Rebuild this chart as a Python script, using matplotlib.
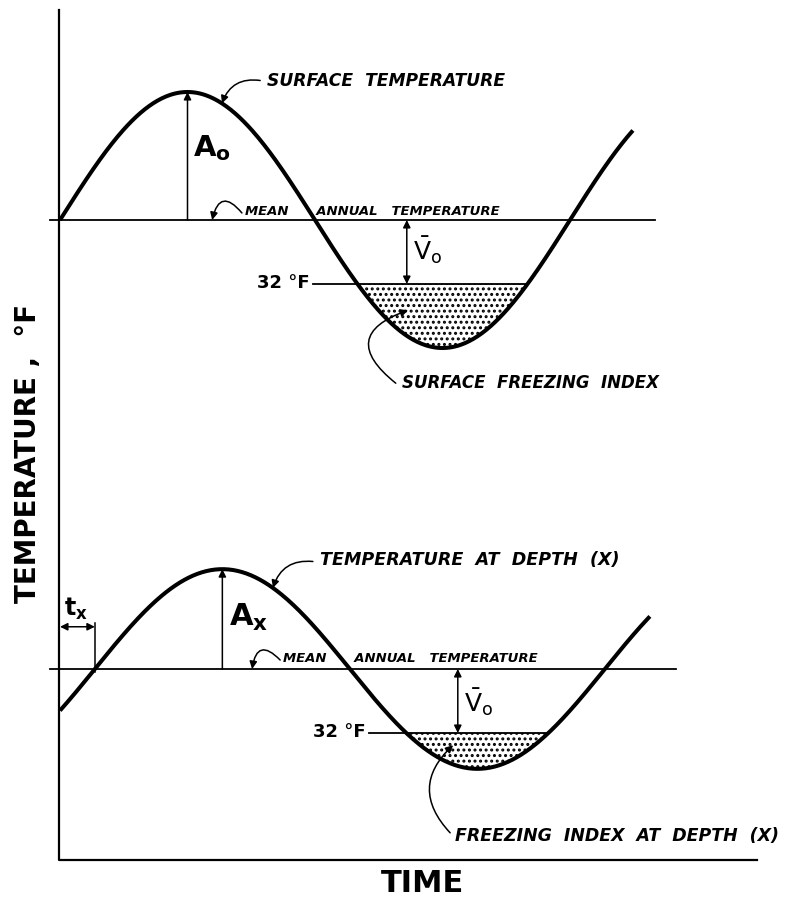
import numpy as np
import matplotlib.pyplot as plt
from matplotlib.lines import Line2D

# model values (time in months, temperature in deg F)
period = 12.0
mean_temp = [42.0, 42.0]        # surface, depth x
amplitude = [20.0, 15.6]        # A0, Ax
lag = [0.0, 0.82]               # t_x
t_end = [13.48, 13.88]
mean_line_end = [14.0, 14.5]
freeze = 32.0

W, H = 792, 899
px_month = 42.5
px_deg = 6.4
x0 = 60

plt.rcParams['mathtext.fontset'] = 'dejavusans'
plt.rcParams['hatch.linewidth'] = 1.4

fig = plt.figure(figsize=(W / 100, H / 100), dpi=100)


def panel(top_px, bot_px, mean_px, t_mean):
    ax = fig.add_axes([0, 1 - bot_px / H, 1, (bot_px - top_px) / H])
    ax.set_xlim(-x0 / px_month, (W - x0) / px_month)
    ax.set_ylim(t_mean - (bot_px - mean_px) / px_deg, t_mean + (mean_px - top_px) / px_deg)
    ax.axis('off')
    return ax


def temp(i, t):
    return mean_temp[i] + amplitude[i] * np.sin(2 * np.pi * (t - lag[i]) / period)


def arrow(ax, xy, xytext, rad=0.0, style='-|>'):
    ax.annotate('', xy=xy, xytext=xytext,
                arrowprops=dict(arrowstyle=style, color='k', lw=1.1, mutation_scale=11,
                                shrinkA=0, shrinkB=0,
                                connectionstyle='arc3,rad=%s' % rad))


axes = [panel(0, 440, 220, mean_temp[0]), panel(440, H, 669, mean_temp[1])]
dash_start = [5.95, 7.27]

for i, ax in enumerate(axes):
    t = np.linspace(0, t_end[i], 400)
    ax.plot(t, temp(i, t), color='k', lw=2.9, solid_capstyle='butt')
    ax.plot([-0.24, mean_line_end[i]], [mean_temp[i], mean_temp[i]], color='k', lw=1.3)
    d = np.arcsin((mean_temp[i] - freeze) / amplitude[i])
    t1 = lag[i] + period * (np.pi + d) / (2 * np.pi)
    t2 = lag[i] + period * (2 * np.pi - d) / (2 * np.pi)
    tt = np.linspace(t1, t2, 200)
    ax.fill_between(tt, temp(i, tt), freeze, facecolor='white', edgecolor='k',
                    hatch='...', lw=0.3)
    ax.plot([dash_start[i], t2], [freeze, freeze], color='k', lw=1.3)
    ax.text(dash_start[i] - 0.07, freeze + 0.1, '32 °F', ha='right', va='center',
            fontsize=13, weight='bold')

ax1, ax2 = axes
lab = dict(style='italic', weight='bold', ha='left', va='center')

# surface panel
arrow(ax1, (3.0, temp(0, 3.0)), (3.0, mean_temp[0]))
ax1.text(3.13, 53.2, r'$\mathbf{A}_{\mathbf{o}}$', fontsize=21, ha='left', va='center')
arrow(ax1, (8.16, freeze), (8.16, mean_temp[0]), style='<|-|>')
ax1.text(8.3, 37.3, r'$\bar{\mathrm{V}}_{\mathrm{o}}$', fontsize=18, ha='left', va='center')
ax1.text(4.87, 63.7, 'SURFACE  TEMPERATURE', fontsize=12.3, **lab)
arrow(ax1, (3.81, temp(0, 3.81)), (4.71, 63.8), rad=0.4)
ax1.text(4.35, 43.4, 'MEAN      ANNUAL   TEMPERATURE', fontsize=9.5, **lab)
arrow(ax1, (3.58, mean_temp[0]), (4.28, 43.1), rad=1.0)
ax1.text(8.05, 16.5, 'SURFACE  FREEZING  INDEX', fontsize=12, **lab)
arrow(ax1, (8.19, 27.9), (7.9, 16.5), rad=-0.9)

# depth panel
pk = lag[1] + period / 4
arrow(ax2, (pk, temp(1, pk)), (pk, mean_temp[1]))
ax2.text(3.98, 50.1, r'$\mathbf{A}_{\mathbf{x}}$', fontsize=22, ha='left', va='center')
arrow(ax2, (lag[1], 48.6), (0.0, 48.6), style='<|-|>')
ax2.plot([lag[1], lag[1]], [49.2, 41.5], color='k', lw=1.1)
ax2.text(0.1, 51.4, r'$\mathbf{t}_{\mathbf{x}}$', fontsize=17, ha='left', va='center')
arrow(ax2, (9.36, freeze), (9.36, mean_temp[1]), style='<|-|>')
ax2.text(9.5, 36.8, r'$\bar{\mathrm{V}}_{\mathrm{o}}$', fontsize=18, ha='left', va='center')
ax2.text(6.12, 59.0, 'TEMPERATURE  AT  DEPTH  (X)', fontsize=12.6, **lab)
arrow(ax2, (5.01, temp(1, 5.01)), (5.95, 58.8), rad=0.4)
ax2.text(5.25, 43.7, 'MEAN      ANNUAL   TEMPERATURE', fontsize=9.5, **lab)
arrow(ax2, (4.52, mean_temp[1]), (5.18, 43.4), rad=1.0)
ax2.text(9.29, 15.9, 'FREEZING  INDEX  AT  DEPTH  (X)', fontsize=12.5, **lab)
arrow(ax2, (9.25, 30.1), (9.18, 16.4), rad=-0.5)

# frame and axis titles
fig.add_artist(Line2D([59 / W, 59 / W, 757 / W], [1 - 10 / H, 1 - 860 / H, 1 - 860 / H],
                      transform=fig.transFigure, color='k', lw=1.6))
fig.text(28 / W, 1 - 453 / H, 'TEMPERATURE ,  °F', rotation=90, ha='center', va='center',
         fontsize=20, weight='bold')
fig.text(422 / W, 1 - 884 / H, 'TIME', ha='center', va='center', fontsize=22, weight='bold')

fig.savefig('out.png', dpi=100, facecolor='white')
